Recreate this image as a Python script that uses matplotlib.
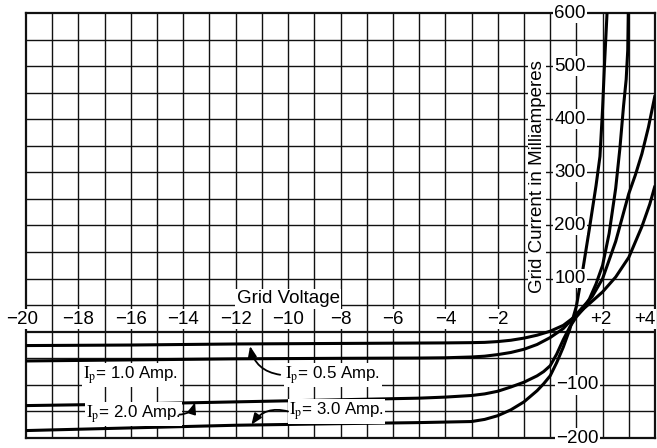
import matplotlib
matplotlib.use("Agg")
import matplotlib.pyplot as plt

plt.rcParams["font.family"] = ["Liberation Sans", "DejaVu Sans"]
plt.rcParams["mathtext.fontset"] = "stix"

# Grid voltage (V) and grid current (mA) for each plate current
v_05 = [-20, -16, -12, -8, -4, -3, -2.5, -2, -1.5, -1, -0.5, 0, 0.5, 0.9,
        1.2, 1.5, 2.0, 2.5, 3.0, 3.5, 3.8, 4.0]
i_05 = [-26, -25, -23, -22, -21, -20.5, -20, -18.5, -16, -12, -6.5, 1, 12, 27,
        40, 53, 75, 103, 140, 198, 240, 275]

v_10 = [-20, -16, -12, -8, -5, -4, -3, -2.5, -2, -1.5, -1, -0.5, 0, 0.5, 0.9,
        1.2, 1.6, 2.0, 2.5, 2.75, 3.0, 3.25, 3.5, 3.75, 4.0]
i_10 = [-55, -53, -51, -50, -49.5, -49, -47.5, -46, -43, -39, -33, -24, -11, 6, 27,
        44, 66, 100, 170, 215, 260, 295, 335, 385, 445]

v_20 = [-20, -16, -12, -8, -5, -4, -3, -2.5, -2, -1.5, -1, -0.5, -0.25, 0, 0.25, 0.5,
        0.75, 1.0, 1.25, 1.5, 1.75, 2.0, 2.25, 2.5, 2.66, 2.8, 2.9, 2.96, 2.98]
i_20 = [-139, -136, -132, -128, -125, -123, -120, -117, -112, -104, -95, -83, -75, -64, -42, -15,
        9, 28, 42, 62, 90, 125, 185, 270, 345, 425, 475, 530, 600]

v_30 = [-20, -16, -12, -8, -5, -4, -3, -2.5, -2, -1.5, -1, -0.5, -0.25, 0, 0.25, 0.5,
        0.75, 1.0, 1.25, 1.5, 1.75, 1.9, 2.0, 2.07, 2.17]
i_30 = [-186, -181, -176, -173, -171, -170, -169, -165, -158, -147, -132, -111, -98, -83, -58, -29,
        5, 48, 118, 195, 275, 330, 420, 500, 600]

volt_ticks = [-20, -18, -16, -14, -12, -10, -8, -6, -4, -2, 2, 4]
volt_labels = ["\u221220", "\u221218", "\u221216", "\u221214", "\u221212", "\u221210",
               "\u22128", "\u22126", "\u22124", "\u22122", "+2", "+4"]
current_ticks = [600, 500, 400, 300, 200, 100, -100, -200]
current_labels = ["600", "500", "400", "300", "200", "100", "\u2212100", "\u2212200"]

fig = plt.figure(figsize=(6.57, 4.48), dpi=100)
ax = fig.add_axes([26 / 657, 10 / 448, 629 / 657, 425 / 448])
ax.set_xlim(-20, 4)
ax.set_ylim(-200, 600)
ax.set_xticks([])
ax.set_yticks([])
for s in ax.spines.values():
    s.set_linewidth(1.6)
    s.set_color("#111111")

# graph-paper grid: 1 V by 50 mA
for v in range(-19, 4):
    ax.axvline(v, color="#111111", lw=1.0, zorder=1)
for c in range(-150, 600, 50):
    ax.axhline(c, color="#111111", lw=1.6 if c == 0 else 1.0, zorder=1)

for v, i in [(v_05, i_05), (v_10, i_10), (v_20, i_20), (v_30, i_30)]:
    ax.plot(v, i, color="black", lw=2.2, solid_capstyle="butt", zorder=3)

box = dict(facecolor="white", edgecolor="none", pad=1.0)
fs = 13.5
fs_note = 12.2

for v, lab in zip(volt_ticks, volt_labels):
    x = v
    ha = "center"
    if v == -20:
        x = -20.15
    if v == 4:
        x, ha = 4.0, "right"
    if v == 2:
        x = 1.95
    ax.text(x, 24, lab, ha=ha, va="center", fontsize=fs, bbox=box, zorder=5, clip_on=False)

for c, lab in zip(current_ticks, current_labels):
    x = 0.75 if c > 0 else 1.05
    ax.text(x, c, lab, ha="center", va="center", fontsize=fs, bbox=box, zorder=5, clip_on=False)

ax.text(-0.5, 292, "Grid Current in Milliamperes", rotation=90, ha="center", va="center",
        fontsize=fs, bbox=dict(facecolor="white", edgecolor="none", pad=0.5), zorder=5)
ax.text(-10, 62, "Grid Voltage", ha="center", va="center", fontsize=fs, bbox=box, zorder=5)

# curve labels
ax.text(-8.3, -81, r"$\mathrm{I_p}$= 0.5 Amp.", ha="center", va="center",
        fontsize=fs_note, bbox=box, zorder=5)
ax.text(-16.0, -81, r"$\mathrm{I_p}$= 1.0 Amp.", ha="center", va="center",
        fontsize=fs_note, bbox=box, zorder=5)
ax.text(-15.9, -155, r"$\mathrm{I_p}$= 2.0 Amp.", ha="center", va="center",
        fontsize=fs_note, bbox=box, zorder=5)
ax.text(-8.15, -150, r"$\mathrm{I_p}$= 3.0 Amp.", ha="center", va="center",
        fontsize=fs_note, bbox=box, zorder=5)

# leader arrows from the labels to their curves
arrow = dict(arrowstyle="-|>,head_length=0.55,head_width=0.22", color="black", lw=1.3,
             shrinkA=0, shrinkB=0, mutation_scale=12)
ax.annotate("", xy=(-11.45, -27), xytext=(-10.3, -81), zorder=6,
            arrowprops=dict(arrow, connectionstyle="arc3,rad=-0.35"))
ax.annotate("", xy=(-13.55, -133), xytext=(-14.15, -156), zorder=6,
            arrowprops=dict(arrow, connectionstyle="arc3,rad=0.35"))
ax.annotate("", xy=(-11.4, -175), xytext=(-10.0, -150), zorder=6,
            arrowprops=dict(arrow, connectionstyle="arc3,rad=0.35"))

fig.savefig("out.png", dpi=100)
